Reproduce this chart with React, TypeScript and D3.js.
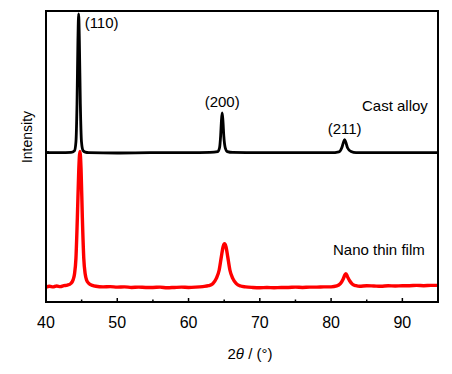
import React from 'react';
import * as d3 from 'd3';

// XRD patterns, 2theta (deg) vs intensity (a.u., offset stacked)
const castAlloy: [number, number][] = [
  [40, 51.3], [42, 51.3], [43.5, 51.4], [44.0, 52], [44.2, 55], [44.35, 68], [44.48, 90],
  [44.58, 99], [44.68, 90], [44.82, 68], [44.98, 55], [45.2, 52], [45.5, 51.5], [46, 51.3],
  [50, 51.2], [55, 51.3], [60, 51.3], [63, 51.4], [64.1, 51.7], [64.35, 53], [64.5, 57],
  [64.62, 62.5], [64.72, 65], [64.82, 62.5], [64.95, 57], [65.15, 53], [65.45, 51.7], [66.2, 51.4],
  [70, 51.3], [75, 51.3], [80, 51.3], [81.1, 51.6], [81.5, 53], [81.75, 55], [81.9, 55.8],
  [82.05, 55], [82.3, 53], [82.8, 51.7], [83.5, 51.3], [90, 51.3], [95, 51.3],
];

const nanoFilm: [number, number][] = [
  [40, 5.1], [40.5, 5.4], [41, 5.2], [41.5, 5.5], [42, 5.3], [42.5, 5.6], [43, 5.8], [43.5, 6.4],
  [43.8, 7.6], [44.0, 9.6], [44.2, 15], [44.4, 29], [44.6, 45.5], [44.76, 51.7], [44.92, 45.5],
  [45.1, 29], [45.3, 15], [45.5, 9.6], [45.7, 7.5], [46.0, 6.4], [46.5, 5.7], [47, 5.4], [48, 5.2],
  [49, 5.3], [50, 5.1], [51, 5.2], [52, 5.0], [53, 5.1], [54, 5.0], [55, 5.0], [56, 5.1], [57, 4.9],
  [58, 5.0], [59, 5.1], [60, 5.0], [61, 5.1], [62, 5.3], [62.8, 5.6], [63.4, 6.3], [63.9, 8.1],
  [64.3, 11], [64.6, 15.5], [64.85, 19], [65.05, 20], [65.25, 19], [65.5, 15.5], [65.8, 11],
  [66.2, 8.1], [66.7, 6.3], [67.3, 5.5], [68, 5.2], [69, 5.0], [70, 4.9], [71, 5.0], [72, 4.9],
  [73, 5.0], [74, 5.0], [75, 5.1], [76, 5.0], [77, 5.1], [78, 5.1], [79, 5.2], [80, 5.2], [80.8, 5.5],
  [81.3, 6.3], [81.7, 7.9], [81.95, 9.4], [82.08, 9.7], [82.3, 8.7], [82.6, 7.3], [83.0, 6.1],
  [83.5, 5.6], [84, 5.4], [85, 5.6], [86, 5.5], [87, 5.4], [88, 5.6], [89, 5.5], [90, 5.6],
  [91, 5.6], [92, 5.7], [93, 5.6], [94, 5.7], [95, 5.7],
];

const xTicks = [40, 50, 60, 70, 80, 90];
const xMinorTicks = [45, 55, 65, 75, 85, 95];
const peaks = [
  { label: '(110)', x: 44.58, y: 99 },
  { label: '(200)', x: 64.72, y: 65 },
  { label: '(211)', x: 81.9, y: 55.8 },
];

const W = 452;
const H = 374;
const left = 46, right = 438, top = 11, bottom = 302;

export default function App() {
  const x = d3.scaleLinear().domain([40, 95]).range([left, right]);
  const y = d3.scaleLinear().domain([0, 100]).range([bottom, top]);
  const line = d3.line<[number, number]>()
    .x(d => x(d[0]))
    .y(d => y(d[1]))
    .curve(d3.curveMonotoneX);

  const font = 'Arial, "Liberation Sans", sans-serif';

  return (
    <svg width={W} height={H} style={{ position: 'absolute', left: 0, top: 0, background: '#fff' }}
      fontFamily={font}>
      <path d={line(nanoFilm) || ''} fill="none" stroke="#ff0000" strokeWidth={3.4} strokeLinejoin="round" />
      <path d={line(castAlloy) || ''} fill="none" stroke="#000" strokeWidth={2.8} strokeLinejoin="round" />

      <rect x={left} y={top} width={right - left} height={bottom - top} fill="none" stroke="#000" strokeWidth={2} />

      {xTicks.map(t => (
        <g key={t}>
          <line x1={x(t)} x2={x(t)} y1={bottom} y2={bottom - 4} stroke="#000" strokeWidth={1.5} />
          <text x={x(t)} y={322} fontSize={16} textAnchor="middle" dominantBaseline="central">{t}</text>
        </g>
      ))}
      {xMinorTicks.map(t => (
        <line key={t} x1={x(t)} x2={x(t)} y1={bottom} y2={bottom - 2.5} stroke="#000" strokeWidth={1.5} />
      ))}
      <line x1={left} x2={left + 3} y1={152} y2={152} stroke="#000" strokeWidth={1.5} />

      {peaks.map(p => (
        <text key={p.label}
          x={p.label === '(110)' ? x(p.x) + 6 : x(p.x)}
          y={p.label === '(110)' ? 22 : y(p.y) - 11}
          fontSize={15}
          textAnchor={p.label === '(110)' ? 'start' : 'middle'}
          dominantBaseline="central">{p.label}</text>
      ))}

      <text x={362} y={105} fontSize={15} dominantBaseline="central">Cast alloy</text>
      <text x={333} y={249} fontSize={15} dominantBaseline="central">Nano thin film</text>

      <text x={250} y={353} fontSize={15} textAnchor="middle" dominantBaseline="central">
        2<tspan fontStyle="italic">θ</tspan> / (°)
      </text>
      <text transform="translate(27,137) rotate(-90)" fontSize={14} textAnchor="middle"
        dominantBaseline="central">Intensity</text>
    </svg>
  );
}
